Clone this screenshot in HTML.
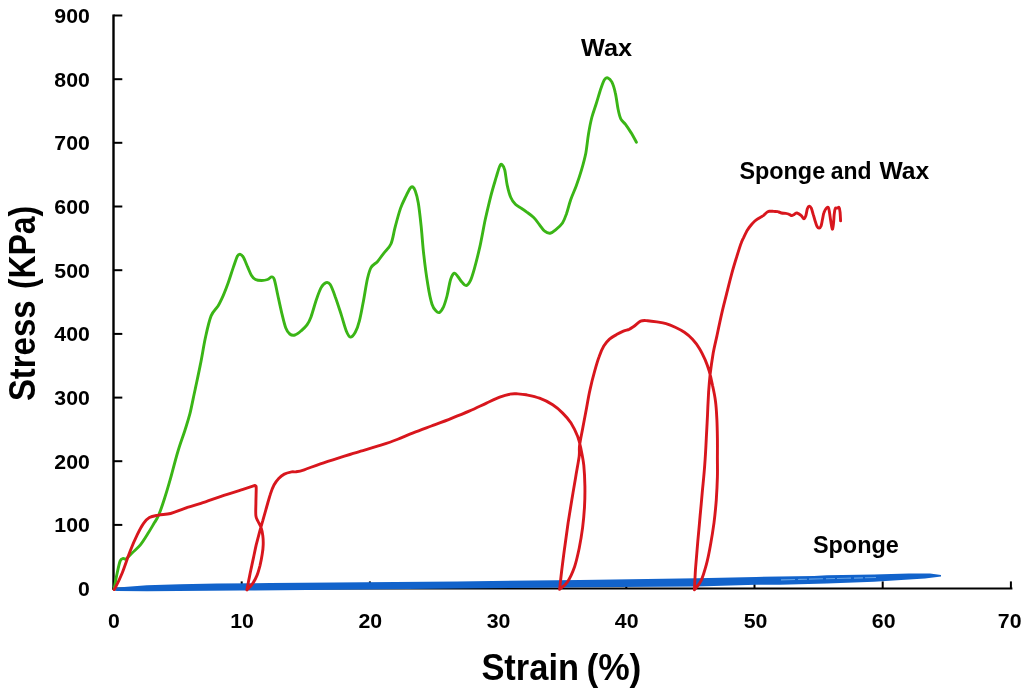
<!DOCTYPE html>
<html lang="en"><head><meta charset="utf-8"><title>Stress vs Strain</title>
<style>
html,body{margin:0;padding:0;background:#fff;}
body{width:1024px;height:694px;overflow:hidden;}
svg{display:block;}
text{font-family:"Liberation Sans","DejaVu Sans",sans-serif;font-weight:bold;fill:#000;}
.tick{font-size:21px;}
.lab{font-size:23px;}
.title{font-size:36.4px;}
</style></head><body>
<svg width="1024" height="694" viewBox="0 0 1024 694">
<rect width="1024" height="694" fill="#fff"/>
<g stroke="#000" stroke-width="2.4" fill="none" stroke-linecap="butt"><path d="M113.5 14.4V589.7"/><path d="M112.4 588.6H1012.4" stroke-width="2"/><path d="M113.5 524.9H122.3" stroke-width="2"/><path d="M113.5 461.2H122.3" stroke-width="2"/><path d="M113.5 397.6H122.3" stroke-width="2"/><path d="M113.5 333.9H122.3" stroke-width="2"/><path d="M113.5 270.2H122.3" stroke-width="2"/><path d="M113.5 206.5H122.3" stroke-width="2"/><path d="M113.5 142.8H122.3" stroke-width="2"/><path d="M113.5 79.2H122.3" stroke-width="2"/><path d="M113.5 15.5H122.3" stroke-width="2"/><path d="M241.7 588.6V581.4" stroke-width="2"/><path d="M369.9 588.6V581.4" stroke-width="2"/><path d="M498.1 588.6V581.4" stroke-width="2"/><path d="M626.3 588.6V581.4" stroke-width="2"/><path d="M754.5 588.6V581.4" stroke-width="2"/><path d="M882.7 588.6V581.4" stroke-width="2"/><path d="M1010.9 588.6V581.4" stroke-width="2"/></g>
<path d="M114.2 588.4L117.6 587.4L147.0 585.2L180.0 584.3L217.0 583.5L270.0 583.0L334.0 582.6L457.0 581.4L580.0 579.9L697.0 578.3L756.0 576.9L814.0 575.9L827.0 575.2L874.0 574.5L909.0 573.6L930.0 573.6L941.0 575.0L941.0 576.6L925.0 578.5L909.0 579.6L874.0 581.8L827.0 583.6L780.0 584.8L756.0 584.8L697.0 586.4L580.0 587.2L540.0 587.8L457.0 588.6L334.0 589.8L240.0 590.6L147.0 591.3L117.0 591.0L114.2 590.4Z" fill="#1263cb"/>
<path d="M781 579.9L800 579.4L822 578.8L846 578.3L876 577.5" fill="none" stroke="#7db6ee" stroke-width="1.1" stroke-dasharray="14 3 9 2" opacity="0.75"/>
<path d="M114.1 589.2C114.6 586.5 116.1 577.7 117.2 573.0C118.2 568.3 119.2 563.3 120.2 560.9C121.2 558.5 122.2 558.8 123.2 558.5C124.2 558.2 124.7 559.8 126.2 558.9C127.7 557.9 129.9 555.2 132.3 552.8C134.6 550.5 137.7 548.1 140.4 544.8C143.1 541.4 146.1 536.4 148.4 532.7C150.8 529.0 152.8 525.4 154.5 522.6C156.2 519.7 156.8 519.5 158.5 515.5C160.2 511.5 162.6 504.6 164.6 498.3C166.6 492.1 168.4 486.0 170.6 478.2C172.8 470.3 175.5 459.4 177.9 451.5C180.2 443.5 182.8 437.0 184.8 430.7C186.8 424.3 188.2 420.3 190.0 413.4C191.7 406.5 193.4 397.2 195.2 389.2C196.9 381.1 198.6 373.6 200.3 364.9C202.1 356.3 203.7 345.4 205.5 337.3C207.3 329.1 209.0 321.1 211.1 315.9C213.2 310.6 216.1 309.1 218.2 305.8C220.2 302.4 221.5 299.5 223.2 295.7C224.9 291.8 226.6 287.3 228.3 282.6C229.9 277.9 231.8 271.8 233.3 267.4C234.8 263.1 236.2 258.5 237.3 256.3C238.5 254.1 239.4 254.1 240.4 254.3C241.4 254.5 242.2 255.3 243.4 257.3C244.6 259.4 246.1 263.4 247.4 266.4C248.8 269.4 250.1 273.3 251.5 275.5C252.8 277.7 253.8 278.7 255.5 279.5C257.2 280.4 259.5 280.5 261.6 280.5C263.6 280.5 265.9 280.1 267.6 279.5C269.3 278.9 270.5 276.9 271.6 276.9C272.8 276.9 273.3 276.6 274.3 279.5C275.3 282.5 276.5 289.1 277.7 294.7C278.9 300.2 280.4 307.3 281.7 312.8C283.1 318.4 284.4 324.4 285.8 328.0C287.1 331.5 288.3 332.8 289.8 334.0C291.3 335.2 293.0 335.5 294.9 335.0C296.7 334.5 298.9 332.7 300.9 331.0C302.9 329.3 305.3 327.3 307.0 324.9C308.6 322.6 309.5 320.9 311.0 316.9C312.5 312.8 314.4 305.6 316.0 300.7C317.7 295.8 319.4 290.6 321.1 287.6C322.8 284.6 324.6 283.1 326.1 282.6C327.6 282.1 328.7 282.2 330.2 284.6C331.7 286.9 333.4 291.6 335.2 296.7C337.1 301.7 339.4 309.1 341.3 314.9C343.1 320.6 344.8 327.3 346.3 331.0C347.8 334.7 348.8 336.9 350.4 337.1C351.9 337.2 353.9 334.7 355.4 332.0C356.9 329.3 358.1 326.1 359.4 320.9C360.8 315.7 362.1 307.8 363.5 300.7C364.8 293.7 366.2 284.1 367.5 278.5C368.8 273.0 369.5 270.3 371.1 267.4C372.8 264.6 375.5 263.7 377.6 261.4C379.7 259.0 381.4 256.2 383.7 253.3C385.9 250.4 389.0 248.3 390.9 244.0C392.8 239.7 393.5 233.5 395.0 227.6C396.6 221.6 398.7 213.6 400.5 208.4C402.3 203.2 404.4 199.5 406.0 196.1C407.6 192.7 409.3 189.4 410.4 187.9C411.5 186.3 411.7 186.3 412.6 186.8C413.4 187.3 414.3 188.2 415.3 190.9C416.3 193.6 417.3 197.3 418.3 202.9C419.3 208.6 420.1 216.2 421.0 224.8C422.0 233.5 422.6 244.9 423.8 254.9C424.9 264.9 426.5 276.8 427.9 285.0C429.2 293.2 430.6 299.8 432.0 304.2C433.4 308.5 434.8 309.6 436.1 311.0C437.4 312.4 438.4 313.1 439.6 312.4C440.9 311.7 442.2 309.6 443.5 306.9C444.7 304.2 445.8 300.5 447.0 296.0C448.2 291.4 449.4 283.3 450.6 279.5C451.8 275.8 453.2 273.7 454.4 273.2C455.6 272.8 456.7 275.3 458.0 276.8C459.3 278.3 460.7 280.8 462.1 282.3C463.4 283.7 464.8 285.8 466.2 285.6C467.6 285.3 468.9 283.7 470.3 280.9C471.7 278.1 472.8 274.3 474.4 268.6C476.0 262.9 478.0 254.9 479.9 246.7C481.7 238.5 483.5 227.8 485.3 219.3C487.2 210.9 489.0 203.2 490.8 196.1C492.6 189.0 494.8 182.0 496.3 176.9C497.8 171.9 498.9 168.0 499.8 166.0C500.8 163.9 501.2 163.9 502.0 164.6C502.8 165.3 503.9 166.7 504.8 170.1C505.6 173.5 506.2 180.6 507.2 185.1C508.2 189.7 509.4 194.3 510.8 197.5C512.1 200.6 513.7 202.6 515.4 204.3C517.1 206.0 519.0 206.6 520.9 207.9C522.8 209.1 524.7 210.4 526.8 212.1C529.0 213.7 531.6 215.5 533.7 217.5C535.8 219.6 537.4 222.1 539.2 224.4C541.0 226.7 542.8 229.8 544.7 231.2C546.5 232.7 548.3 233.4 550.1 233.2C552.0 232.9 553.6 231.6 555.6 229.9C557.7 228.2 560.6 225.8 562.5 223.0C564.3 220.3 565.2 217.3 566.6 213.4C567.9 209.5 569.1 204.3 570.7 199.7C572.3 195.2 574.3 191.1 576.2 186.0C578.0 181.0 580.0 175.1 581.6 169.6C583.2 164.1 584.6 159.1 585.8 153.2C586.9 147.2 587.5 139.9 588.5 134.0C589.5 128.0 590.5 122.6 591.8 117.5C593.1 112.5 594.7 108.6 596.2 103.8C597.7 99.0 599.5 92.8 600.8 88.8C602.2 84.7 603.2 81.6 604.4 79.7C605.5 77.9 606.4 77.4 607.7 77.8C608.9 78.2 610.5 79.4 611.8 81.9C613.1 84.4 614.3 88.3 615.3 92.9C616.4 97.4 617.2 105.0 618.1 109.3C619.0 113.7 619.6 116.4 620.8 118.9C622.1 121.4 623.8 122.1 625.5 124.4C627.2 126.7 629.1 129.6 631.0 132.6C632.8 135.6 635.5 140.6 636.4 142.2" fill="none" stroke="#3ab516" stroke-width="2.9" stroke-linejoin="round" stroke-linecap="round"/>
<path d="M114.1 589.2C114.3 589.0 113.8 590.8 115.1 588.2C116.5 585.5 119.7 579.2 122.2 573.0C124.7 566.8 127.7 557.2 130.3 550.8C132.8 544.4 135.1 539.2 137.3 534.7C139.5 530.1 141.4 526.4 143.4 523.6C145.4 520.7 146.9 518.9 149.4 517.5C152.0 516.1 155.0 515.8 158.5 515.1C162.1 514.4 166.3 514.6 170.6 513.5C175.0 512.4 179.7 510.1 184.8 508.4C189.8 506.8 194.9 505.4 200.9 503.4C207.0 501.4 214.4 498.6 221.1 496.3C227.8 494.1 235.6 491.7 241.3 489.9C246.9 488.1 252.7 486.2 255.0 485.4L256.0 486.1C256.1 486.7 256.3 486.7 256.2 489.7C256.2 492.6 255.9 499.4 255.9 503.7C255.8 508.1 255.5 512.9 255.9 515.9C256.2 518.9 257.3 519.6 258.1 521.5C258.9 523.4 260.1 524.8 260.9 527.1C261.7 529.5 262.4 532.6 262.8 535.6C263.2 538.5 263.3 541.8 263.2 544.9C263.1 548.1 262.8 550.9 262.2 554.3C261.7 557.7 260.8 562.1 260.0 565.6C259.1 569.0 258.3 572.1 257.2 574.9C256.1 577.7 254.7 580.4 253.4 582.4C252.2 584.4 250.8 585.8 249.7 587.1C248.6 588.3 247.3 589.4 246.9 589.9M246.9 589.9C247.2 588.3 248.0 584.0 248.7 580.5C249.4 577.1 250.2 573.0 251.0 569.3C251.8 565.6 252.5 562.1 253.4 558.1C254.3 554.0 255.2 549.3 256.2 544.9C257.3 540.6 258.5 535.9 259.6 531.8C260.7 527.8 261.6 524.6 262.8 520.6C263.9 516.5 265.3 511.8 266.5 507.5C267.8 503.1 269.0 498.1 270.3 494.4C271.5 490.6 272.6 487.6 274.0 485.0C275.4 482.3 277.0 480.2 278.7 478.4C280.4 476.6 282.1 475.2 284.3 474.1C286.5 473.0 289.9 472.3 291.8 471.9C293.8 471.5 294.1 472.2 296.1 471.8C298.2 471.5 300.2 471.2 304.2 469.8C308.3 468.5 314.3 465.8 320.4 463.8C326.4 461.7 333.8 459.4 340.5 457.3C347.3 455.2 354.0 453.3 360.7 451.2C367.5 449.2 374.9 447.1 380.9 445.2C387.0 443.2 391.7 441.6 397.1 439.5C402.4 437.5 407.5 435.1 413.2 432.9C418.9 430.6 425.0 428.4 431.4 426.0C437.8 423.6 445.2 420.9 451.5 418.3C457.9 415.8 463.9 413.4 469.7 410.9C475.5 408.3 481.5 405.4 486.5 403.1C491.5 400.8 495.9 398.7 499.7 397.2C503.6 395.7 506.9 394.7 509.7 394.2C512.4 393.6 513.5 393.7 516.3 393.8C519.1 394.0 522.4 394.1 526.2 394.8C530.1 395.6 535.1 396.5 539.5 398.2C543.9 399.8 548.9 402.3 552.7 404.8C556.6 407.3 559.6 410.0 562.7 413.1C565.7 416.1 568.5 419.1 571.0 423.0C573.4 426.9 575.9 431.9 577.6 436.2C579.3 440.6 580.0 444.4 581.0 449.2C582.0 454.1 583.1 459.2 583.8 465.3C584.4 471.5 584.8 479.2 584.9 486.1C585.0 493.0 584.9 499.9 584.5 506.8C584.1 513.7 583.5 520.6 582.6 527.6C581.7 534.5 580.5 541.8 579.2 548.3C577.8 554.8 576.5 561.2 574.6 566.7C572.6 572.3 570.1 577.9 567.6 581.7C565.2 585.5 560.9 588.0 559.6 589.3M559.6 589.3C560.0 585.9 561.0 576.3 561.9 569.0C562.8 561.8 563.8 553.7 564.9 546.0C565.9 538.3 567.0 530.6 568.1 522.9C569.3 515.3 570.5 507.6 571.8 499.9C573.1 492.2 574.5 484.2 575.7 476.9C576.9 469.6 578.5 461.4 579.2 456.1C579.8 450.8 578.9 450.1 579.6 445.2C580.2 440.3 581.9 432.9 583.0 426.7C584.2 420.6 585.3 414.4 586.5 408.3C587.6 402.2 588.6 396.0 590.0 389.9C591.3 383.7 593.0 377.0 594.6 371.4C596.1 365.9 597.6 360.7 599.2 356.5C600.7 352.2 602.1 349.0 603.8 346.1C605.5 343.2 607.4 341.1 609.5 339.2C611.7 337.3 614.1 335.9 616.5 334.6C618.8 333.2 621.3 332.0 623.4 331.1C625.5 330.2 627.4 330.0 629.1 329.3C630.9 328.5 631.8 327.8 633.7 326.5C635.7 325.2 638.3 322.2 640.6 321.2C642.9 320.2 644.9 320.6 647.6 320.7C650.2 320.9 653.7 321.4 656.8 321.9C659.8 322.4 662.9 322.8 666.0 323.7C669.1 324.6 672.1 325.8 675.2 327.2C678.3 328.6 681.5 330.3 684.4 332.3C687.3 334.3 690.0 336.5 692.5 339.2C695.0 341.9 697.3 344.9 699.4 348.4C701.5 351.8 703.5 356.1 705.2 359.9C706.8 363.7 708.1 367.2 709.3 371.4C710.5 375.7 711.5 380.3 712.5 385.3C713.6 390.2 714.8 395.6 715.5 401.4C716.3 407.1 716.6 413.7 716.9 419.8C717.2 426.0 717.3 431.8 717.4 438.2C717.5 444.7 717.4 452.0 717.4 458.4C717.4 464.9 717.6 470.0 717.4 476.9C717.2 483.8 716.8 492.2 716.3 499.9C715.7 507.6 714.9 515.7 714.0 522.9C713.0 530.2 712.0 536.8 710.7 543.7C709.5 550.6 708.0 558.3 706.4 564.4C704.7 570.6 703.1 576.3 701.1 580.6C699.1 584.8 695.5 588.2 694.4 589.8M694.4 589.8C694.6 586.3 695.0 577.1 695.5 569.0C696.1 561.0 697.1 550.2 697.8 541.4C698.6 532.5 699.4 524.5 700.1 516.0C700.9 507.6 701.7 499.1 702.4 490.7C703.2 482.2 704.1 474.1 704.7 465.3C705.4 456.6 705.9 446.6 706.3 438.2C706.8 429.9 707.1 422.9 707.5 415.2C707.8 407.5 708.2 399.1 708.6 392.2C709.1 385.3 709.5 380.3 710.2 373.7C711.0 367.2 712.2 359.1 713.2 353.0C714.3 346.9 715.1 343.9 716.7 336.9C718.2 329.8 720.7 317.9 722.4 310.7C724.1 303.4 725.3 299.2 726.7 293.4C728.2 287.6 729.5 281.9 731.1 276.1C732.6 270.3 734.4 264.3 736.1 258.8C737.8 253.3 739.9 246.4 741.2 243.0C742.4 239.5 742.4 240.0 743.4 238.1C744.3 236.1 745.7 233.2 746.8 231.1C748.0 229.1 749.0 227.6 750.3 226.0C751.6 224.3 753.2 222.5 754.6 221.2C756.0 219.9 757.5 219.1 758.9 218.2C760.4 217.2 761.9 216.6 763.3 215.6C764.6 214.6 766.1 212.8 767.1 212.1C768.2 211.4 768.7 211.4 769.7 211.2C770.8 211.1 772.3 211.3 773.6 211.4C775.0 211.5 776.7 211.4 778.0 211.7C779.3 211.9 780.1 212.7 781.4 213.0C782.7 213.3 784.4 213.2 785.7 213.4C787.0 213.6 788.2 213.9 789.2 214.3C790.2 214.6 790.9 215.6 791.8 215.6C792.7 215.6 793.5 214.7 794.4 214.3C795.3 213.8 795.9 212.8 797.0 213.0C798.1 213.2 799.9 214.4 801.0 215.4C802.2 216.4 803.1 218.8 803.9 218.8C804.8 218.8 805.3 217.1 805.9 215.4C806.5 213.7 806.8 210.1 807.4 208.6C807.9 207.0 808.7 206.2 809.3 206.1C810.0 206.0 810.6 206.7 811.3 208.1C811.9 209.4 812.6 212.2 813.2 214.4C813.9 216.6 814.5 219.2 815.2 221.2C815.8 223.3 816.5 225.5 817.1 226.6C817.8 227.8 818.4 228.2 819.1 228.1C819.7 228.0 820.5 227.6 821.0 226.1C821.6 224.7 822.0 221.6 822.5 219.3C823.0 217.0 823.3 214.3 824.0 212.5C824.6 210.6 825.7 208.9 826.4 208.1C827.1 207.3 827.8 206.8 828.4 207.6C828.9 208.3 829.1 210.2 829.5 212.5C829.9 214.7 830.3 218.5 830.8 221.2C831.3 224.0 831.8 228.6 832.3 229.1C832.7 229.6 833.1 226.6 833.4 224.2C833.8 221.7 833.9 217.0 834.2 214.4C834.5 211.8 834.7 209.6 835.2 208.6C835.7 207.5 836.5 208.2 837.1 208.1C837.8 207.9 838.6 206.8 839.1 207.6C839.6 208.3 839.8 210.3 840.1 212.5C840.3 214.7 840.5 219.4 840.6 220.8" fill="none" stroke="#d8161d" stroke-width="2.9" stroke-linejoin="round" stroke-linecap="round"/>
<g class="tick" text-anchor="end"><text x="89.8" y="596.1" textLength="11.8" lengthAdjust="spacingAndGlyphs">0</text><text x="89.8" y="532.4" textLength="35.5" lengthAdjust="spacingAndGlyphs">100</text><text x="89.8" y="468.7" textLength="35.5" lengthAdjust="spacingAndGlyphs">200</text><text x="89.8" y="405.1" textLength="35.5" lengthAdjust="spacingAndGlyphs">300</text><text x="89.8" y="341.4" textLength="35.5" lengthAdjust="spacingAndGlyphs">400</text><text x="89.8" y="277.7" textLength="35.5" lengthAdjust="spacingAndGlyphs">500</text><text x="89.8" y="214.0" textLength="35.5" lengthAdjust="spacingAndGlyphs">600</text><text x="89.8" y="150.3" textLength="35.5" lengthAdjust="spacingAndGlyphs">700</text><text x="89.8" y="86.7" textLength="35.5" lengthAdjust="spacingAndGlyphs">800</text><text x="89.8" y="23.0" textLength="35.5" lengthAdjust="spacingAndGlyphs">900</text></g>
<g class="tick" text-anchor="middle"><text x="113.9" y="628.4" textLength="11.8" lengthAdjust="spacingAndGlyphs">0</text><text x="242.1" y="628.4" textLength="23.7" lengthAdjust="spacingAndGlyphs">10</text><text x="370.3" y="628.4" textLength="23.7" lengthAdjust="spacingAndGlyphs">20</text><text x="498.5" y="628.4" textLength="23.7" lengthAdjust="spacingAndGlyphs">30</text><text x="626.7" y="628.4" textLength="23.7" lengthAdjust="spacingAndGlyphs">40</text><text x="755.5" y="628.4" textLength="23.7" lengthAdjust="spacingAndGlyphs">50</text><text x="883.7" y="628.4" textLength="23.7" lengthAdjust="spacingAndGlyphs">60</text><text x="1009.7" y="628.4" textLength="23.7" lengthAdjust="spacingAndGlyphs">70</text></g>
<g class="lab"><text x="581" y="56.1" textLength="51" lengthAdjust="spacingAndGlyphs">Wax</text><text x="739.4" y="179.3" textLength="85.8" lengthAdjust="spacingAndGlyphs">Sponge</text><text x="830.8" y="179.3" textLength="40.8" lengthAdjust="spacingAndGlyphs">and</text><text x="879.5" y="179.3" textLength="49.7" lengthAdjust="spacingAndGlyphs">Wax</text><text x="812.9" y="552.5" textLength="86" lengthAdjust="spacingAndGlyphs">Sponge</text></g>
<g class="title"><text x="481.4" y="680.2" textLength="97.6" lengthAdjust="spacingAndGlyphs">Strain</text><text x="586.4" y="680.2" textLength="55" lengthAdjust="spacingAndGlyphs">(%)</text><g transform="translate(35.4 399.5) rotate(-90)"><text x="-1.6" y="0" textLength="100.6" lengthAdjust="spacingAndGlyphs">Stress</text><text x="110.4" y="0" textLength="83.2" lengthAdjust="spacingAndGlyphs">(KPa)</text></g></g>
</svg>
</body></html>
